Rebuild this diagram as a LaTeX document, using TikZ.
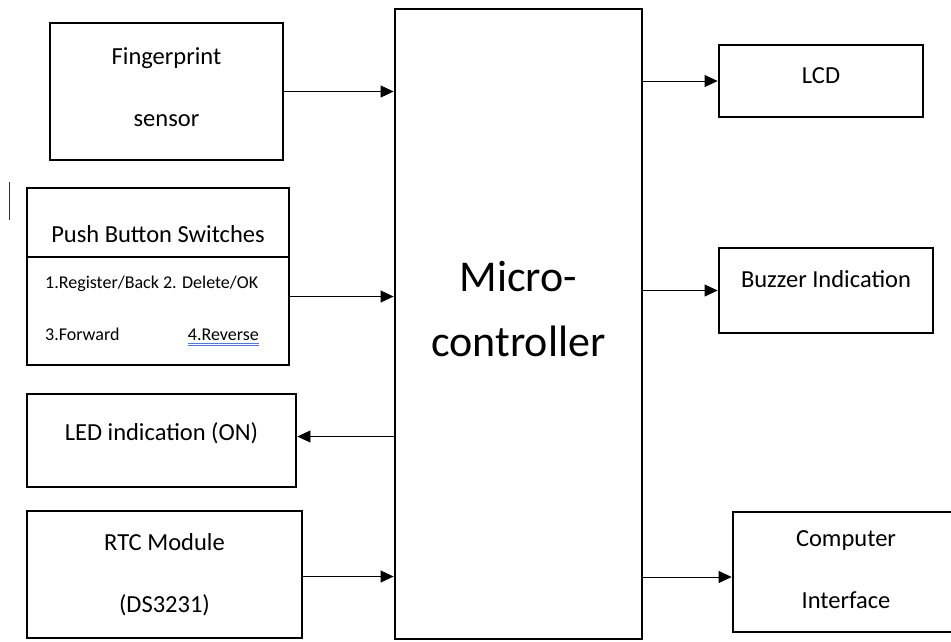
\documentclass[tikz,border=0pt]{standalone}
\usepackage{fontspec}
\setmainfont{Carlito}
\usepackage{xcolor}
\usetikzlibrary{arrows.meta}

\definecolor{ulblue}{RGB}{80,120,220}

\tikzset{
  box/.style={draw, line width=2.8pt, inner sep=0pt, align=center,
    font=\fontsize{24.5}{62}\selectfont},
  arr/.style={line width=0.8pt, -{Triangle[length=13pt,width=12pt]}},
  small/.style={inner sep=0pt, font=\fontsize{18}{22}\selectfont}
}

\begin{document}
\begin{tikzpicture}[x=1pt, y=-1pt]
                        \useasboundingbox (0,0) rectangle (951,641);

                        \node [box, minimum width=247pt, minimum height=630pt, font=\fontsize{44}{65}\selectfont] (mcu) at (518.5,324) {Micro-\\controller\rule[-31pt]{0pt}{0pt}};

                        % inputs
                        \node [box, minimum width=233pt, minimum height=137pt] (fp) at (166.5,91.5) {Fingerprint\\sensor\rule[-8pt]{0pt}{0pt}};

                        \node [box, minimum width=262pt, minimum height=177pt] (push) at (158,276.5) {};
                        \draw [line width=1.5pt] (push.west |- 0,257) -- (push.east |- 0,257);
                        \node [anchor=base, inner sep=0pt, font=\fontsize{24.5}{30}\selectfont] (pushhd) at (158,242) {Push Button Switches};
                        \node [small, anchor=base west] (sw1) at (45,288) {1.Register/Back 2. Delete/OK};
                        \node [small, anchor=base west] (sw3) at (45,340) {3.Forward};
                        \node [small, anchor=base east] (sw4) at (259,340) {4.Reverse};
                        \draw [ulblue, line width=0.7pt] ([yshift=-3pt]sw4.base west) -- ([yshift=-3pt]sw4.base east);
                        \draw [ulblue, line width=0.7pt] ([yshift=-5.5pt]sw4.base west) -- ([yshift=-5.5pt]sw4.base east);

                        \node [box, minimum width=269pt, minimum height=93pt, text height=17pt, text depth=18pt] (led) at (161.5,440.5) {LED indication (ON)};

                        \node [box, minimum width=275pt, minimum height=127pt] (rtc) at (164.5,574.5) {RTC Module\\(DS3231)};

                        % outputs
                        \node [box, minimum width=204pt, minimum height=72pt, text height=17pt, text depth=13pt] (lcd) at (821,81) {LCD};

                        \node [box, minimum width=214pt, minimum height=85pt, text height=17pt, text depth=24pt] (buzz) at (826,290.5) {Buzzer Indication};

                        \node [box, minimum width=226pt, minimum height=120pt] (pc) at (846,572) {Computer\\Interface\rule[-5pt]{0pt}{0pt}};

                        %\draw (9,160) -- (9,240);
                        \draw [line width=1pt, black!80] (9,182) -- (9,220);

                        \draw [arr] (fp.east) -- (fp.east -| mcu.west);
                        \draw [arr] ([yshift=-20pt]push.east) -- ([yshift=-20pt]push.east -| mcu.west);
                        \draw [arr] ([yshift=4pt]led.east -| mcu.west) -- ([yshift=4pt]led.east);
                        \draw [arr] ([yshift=-2pt]rtc.east) -- ([yshift=-2pt]rtc.east -| mcu.west);

                        \draw [arr] (lcd.west -| mcu.east) -- (lcd.west);
                        \draw [arr] (buzz.west -| mcu.east) -- (buzz.west);
                        \draw [arr] ([yshift=-5pt]pc.west -| mcu.east) -- ([yshift=-5pt]pc.west);
                    \end{tikzpicture}
\end{document}
